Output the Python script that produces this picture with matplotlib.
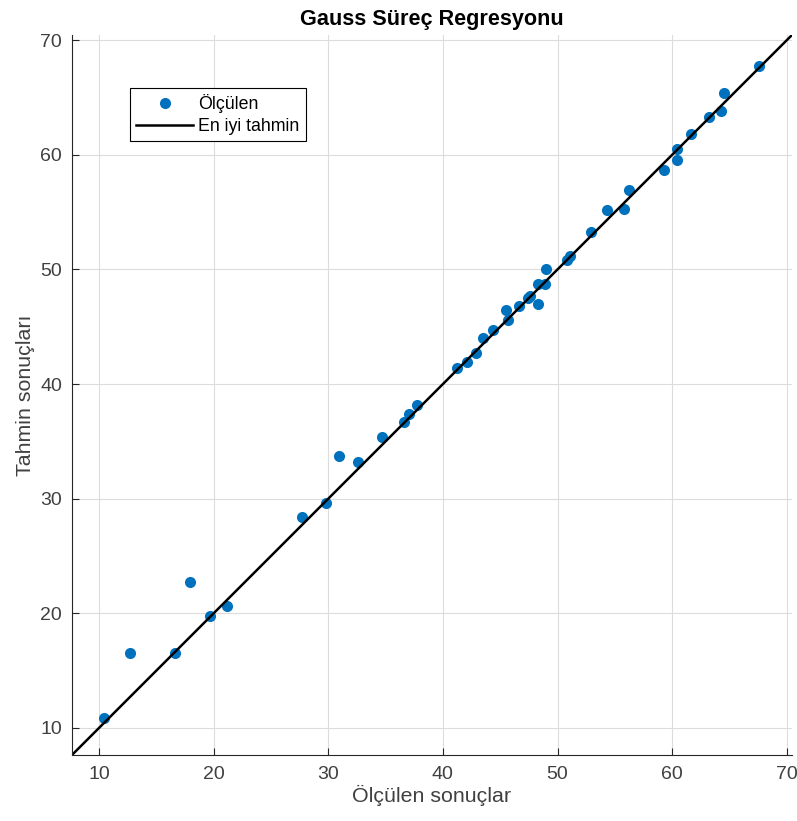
import numpy as np
import matplotlib
matplotlib.use("Agg")
import matplotlib.pyplot as plt

plt.rcParams['font.family'] = ['Liberation Sans', 'DejaVu Sans']

olculen = [10.4, 12.7, 16.6, 17.9, 19.7, 21.2, 27.7, 29.8, 30.9, 32.6,
           34.7, 36.6, 37.0, 37.7, 41.2, 42.1, 42.9, 43.5, 44.4, 45.5,
           45.7, 46.6, 47.4, 47.6, 48.3, 48.3, 48.9, 49.0, 50.8, 51.1,
           52.9, 54.3, 55.8, 56.2, 59.3, 60.4, 60.4, 61.6, 63.2, 64.3,
           64.5, 67.6]
tahmin = [10.9, 16.5, 16.5, 22.7, 19.8, 20.6, 28.4, 29.6, 33.7, 33.2,
          35.4, 36.7, 37.4, 38.2, 41.4, 41.9, 42.7, 44.0, 44.7, 46.5,
          45.6, 46.8, 47.5, 47.7, 47.0, 48.7, 48.7, 50.0, 50.8, 51.2,
          53.3, 55.2, 55.3, 56.9, 58.7, 60.5, 59.5, 61.8, 63.3, 63.8,
          65.4, 67.7]
limits = [7.64, 70.45]
xticks = [10, 20, 30, 40, 50, 60, 70]
yticks = [10, 20, 30, 40, 50, 60, 70]

fig = plt.figure(figsize=(7.97, 8.21), dpi=100)
ax = fig.add_axes([0.0903, 0.0804, 0.9034, 0.877])

ax.plot(olculen, tahmin, 'o', color='#0072BD', markersize=8,
        markeredgewidth=0, label='Ölçülen')
ax.plot(limits, limits, color='black', linewidth=1.8, label='En iyi tahmin')

ax.set_xlim(limits)
ax.set_ylim(limits)
ax.set_xticks(xticks)
ax.set_yticks(yticks)
ax.grid(True, color='#dcdcdc', linewidth=0.8)
ax.set_axisbelow(True)

for side in ['top', 'right']:
    ax.spines[side].set_visible(False)
for side in ['left', 'bottom']:
    ax.spines[side].set_color('#262626')
    ax.spines[side].set_linewidth(0.8)

ax.tick_params(direction='in', length=5, width=0.8, colors='#262626',
               labelsize=14, labelcolor='#404040')
ax.tick_params(axis='x', pad=8)
ax.tick_params(axis='y', pad=7)

ax.set_title('Gauss Süreç Regresyonu', fontsize=15.6, fontweight='bold', pad=7)
ax.set_xlabel('Ölçülen sonuçlar', fontsize=15.4, color='#404040', labelpad=1)
ax.set_ylabel('Tahmin sonuçları', fontsize=15.4, color='#404040', labelpad=4)

leg = ax.legend(loc='upper left', bbox_to_anchor=(0.0806, 0.926),
                borderaxespad=0, fontsize=12.8, fancybox=False,
                framealpha=1, edgecolor='black', handlelength=3.2,
                handletextpad=0.3, borderpad=0.35, labelspacing=0.25)
leg.get_frame().set_linewidth(0.8)

plt.savefig('out.png', dpi=100)
